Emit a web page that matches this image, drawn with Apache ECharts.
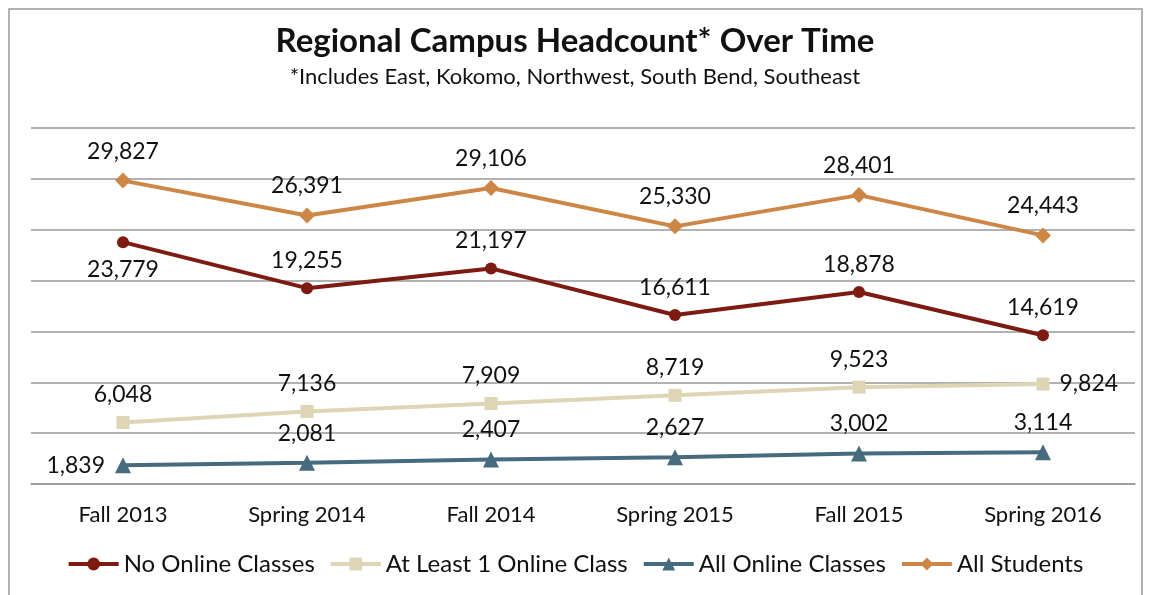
<!DOCTYPE html>
<html>
<head>
<meta charset="utf-8">
<script src="https://cdn.jsdelivr.net/npm/echarts@6/dist/echarts.min.js"></script>
<style>
  html, body { margin: 0; padding: 0; background: #fff; }
  #chart { width: 1150px; height: 595px; }
</style>
</head>
<body>
<div id="chart"></div>
<script>
const terms = ['Fall 2013', 'Spring 2014', 'Fall 2014', 'Spring 2015', 'Fall 2015', 'Spring 2016'];
const noOnline = [23779, 19255, 21197, 16611, 18878, 14619];
const atLeastOne = [6048, 7136, 7909, 8719, 9523, 9824];
const allOnline = [1839, 2081, 2407, 2627, 3002, 3114];
const allStudents = [29827, 26391, 29106, 25330, 28401, 24443];

const font = 'Lato, "Open Sans", sans-serif';
const chart = echarts.init(document.getElementById('chart'));

// label settings per series; a few points sit on a different side
function lbl(pos) {
  return {
    show: true,
    position: pos,
    distance: 10,
    fontFamily: font,
    fontSize: 23,
    color: '#111',
    formatter: (p) => p.value.toLocaleString('en-US')
  };
}

function mk(name, values, color, symbol, size, pos, special) {
  return {
    name: name,
    type: 'line',
    data: values.map((v, i) => special && special[i] ? { value: v, label: lbl(special[i]) } : v),
    symbol: symbol,
    symbolSize: size,
    lineStyle: { color: color, width: 4 },
    itemStyle: { color: color },
    label: lbl(pos),
    emphasis: { disabled: true },
    z: 3
  };
}

const option = {
  animation: false,
  title: {
    text: 'Regional Campus Headcount* Over Time',
    subtext: '*Includes East, Kokomo, Northwest, South Bend, Southeast',
    left: 'center',
    top: 20,
    itemGap: 8,
    textStyle: { fontFamily: font, fontSize: 33, fontWeight: 'bold', color: '#111' },
    subtextStyle: { fontFamily: font, fontSize: 22, color: '#111' }
  },
  graphic: [{
    type: 'rect',
    shape: { x: 9, y: 9, width: 1133, height: 600 },
    style: { fill: 'none', stroke: '#999', lineWidth: 1.5 },
    silent: true
  }],
  legend: {
    bottom: 14,
    left: 'center',
    itemWidth: 50,
    itemHeight: 16,
    itemGap: 14,
    lineStyle: { width: 4 },
    textStyle: { fontFamily: font, fontSize: 24, color: '#111' },
    data: ['No Online Classes', 'At Least 1 Online Class', 'All Online Classes', 'All Students']
  },
  grid: { left: 31, right: 15, top: 128, bottom: 111 },
  xAxis: {
    type: 'category',
    data: terms,
    boundaryGap: true,
    axisLine: { lineStyle: { color: '#999', width: 1.5 } },
    axisTick: { show: false },
    axisLabel: { fontFamily: font, fontSize: 22, color: '#111', margin: 20 }
  },
  yAxis: {
    type: 'value',
    min: 0,
    max: 35000,
    interval: 5000,
    axisLabel: { show: false },
    axisLine: { show: false },
    axisTick: { show: false },
    splitLine: { lineStyle: { color: '#999', width: 1.5 } }
  },
  series: [
    mk('No Online Classes', noOnline, '#7d1a12', 'circle', 12, 'top', { 0: 'bottom' }),
    mk('At Least 1 Online Class', atLeastOne, '#ddd5b5', 'rect', 13, 'top', { 5: 'right' }),
    mk('All Online Classes', allOnline, '#466a7e', 'triangle', 16, 'top', { 0: 'left' }),
    mk('All Students', allStudents, '#cd8645', 'diamond', 16, 'top')
  ]
};

chart.setOption(option);
</script>
</body>
</html>
